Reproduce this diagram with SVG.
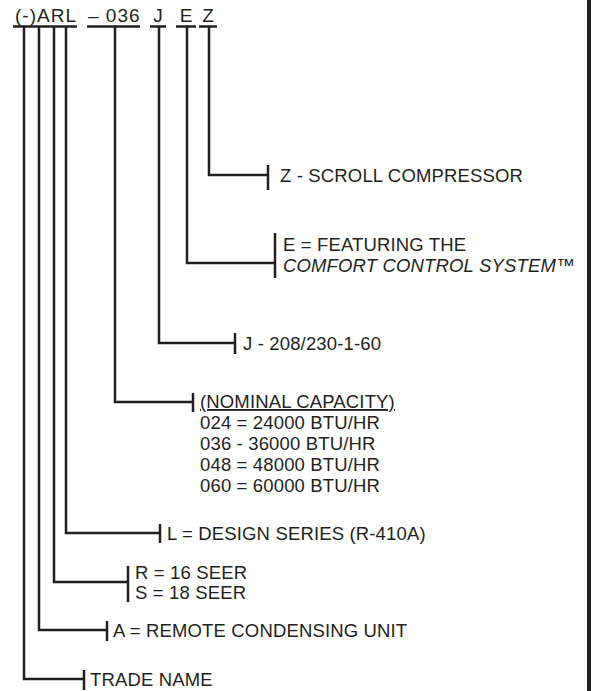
<svg xmlns="http://www.w3.org/2000/svg" width="591" height="691" viewBox="0 0 591 691">
<style>
text{font-family:"Liberation Sans",Arial,sans-serif;font-size:18.5px;letter-spacing:0.15px;fill:#231f20}
.hd{font-size:19px;letter-spacing:1px}
.it{font-style:italic}
.ln{fill:none;stroke:#231f20;stroke-width:2.5}
.tk{stroke:#231f20;stroke-width:2.5}
</style>
<rect x="0" y="0" width="591" height="691" fill="#ffffff"/>
<rect x="587" y="0" width="4" height="691" fill="#231f20"/>
<g id="header">
<text class="hd" x="15" y="22">(-)ARL</text>
<text class="hd" x="88" y="22">– 036</text>
<text class="hd" x="158.5" y="22" text-anchor="middle">J</text>
<text class="hd" x="186.5" y="22" text-anchor="middle">E</text>
<text class="hd" x="208.5" y="22" text-anchor="middle">Z</text>
<line class="tk" x1="13" y1="26.5" x2="77" y2="26.5"/>
<line class="tk" x1="87" y1="26.5" x2="140" y2="26.5"/>
<line class="tk" x1="150" y1="26.5" x2="166" y2="26.5"/>
<line class="tk" x1="176" y1="26.5" x2="196" y2="26.5"/>
<line class="tk" x1="199" y1="26.5" x2="217" y2="26.5"/>
</g>
<g id="connectors">
<polyline class="ln" points="24,27 24,679 84,679"/>
<polyline class="ln" points="39,27 39,630 107,630"/>
<polyline class="ln" points="54,27 54,582 128,582"/>
<polyline class="ln" points="66,27 66,533 160,533"/>
<polyline class="ln" points="115,27 115,402 193,402"/>
<polyline class="ln" points="159,27 159,343 235,343"/>
<polyline class="ln" points="187,27 187,263 275,263"/>
<polyline class="ln" points="209,27 209,175 268,175"/>
<line class="tk" x1="84" y1="670" x2="84" y2="690"/>
<line class="tk" x1="107" y1="621" x2="107" y2="641"/>
<line class="tk" x1="128" y1="566" x2="128" y2="602"/>
<line class="tk" x1="160" y1="524" x2="160" y2="543"/>
<line class="tk" x1="193" y1="393" x2="193" y2="412"/>
<line class="tk" x1="235" y1="333" x2="235" y2="354"/>
<line class="tk" x1="275" y1="233" x2="275" y2="278"/>
<line class="tk" x1="268" y1="165" x2="268" y2="190"/>
</g>
<g id="node-z"><text x="280" y="182">Z - SCROLL COMPRESSOR</text></g>
<g id="node-e">
<text x="283" y="250.5">E = FEATURING THE</text>
<text class="it" x="283" y="271.5">COMFORT CONTROL SYSTEM™</text>
</g>
<g id="node-j"><text x="243" y="350">J - 208/230-1-60</text></g>
<g id="node-capacity">
<text x="200" y="408" text-decoration="underline">(NOMINAL CAPACITY)</text>
<text x="200" y="429">024 = 24000 BTU/HR</text>
<text x="200" y="450">036 - 36000 BTU/HR</text>
<text x="200" y="471">048 = 48000 BTU/HR</text>
<text x="200" y="492">060 = 60000 BTU/HR</text>
</g>
<g id="node-l"><text x="167" y="540">L = DESIGN SERIES (R-410A)</text></g>
<g id="node-rs">
<text x="135" y="579">R = 16 SEER</text>
<text x="135" y="599">S = 18 SEER</text>
</g>
<g id="node-a"><text x="113" y="637">A = REMOTE CONDENSING UNIT</text></g>
<g id="node-trade"><text x="90" y="686">TRADE NAME</text></g>
</svg>
